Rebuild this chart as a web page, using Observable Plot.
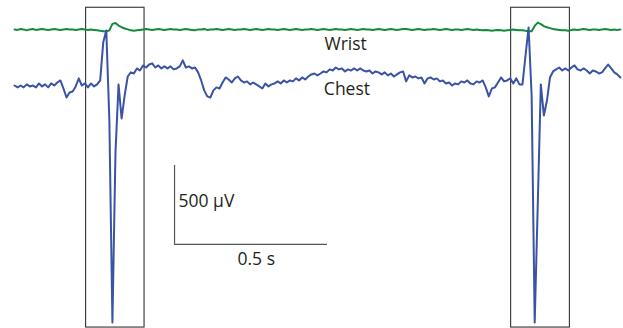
<!DOCTYPE html>
<html>
<head>
<meta charset="utf-8">
<script src="https://cdn.jsdelivr.net/npm/d3@7"></script>
<script src="https://cdn.jsdelivr.net/npm/@observablehq/plot@0.6"></script>
<style>
  html, body { margin: 0; padding: 0; background: #fff; }
  #chart svg { display: block; }
</style>
</head>
<body>
<div id="chart"></div>
<script>
// Sampling interval of both traces (seconds)
const dt = 0.01;

// Chest ECG trace, µV relative to its baseline, one value per sample
const chestUV = [
  6,-6,6,-6,13,0,6,-6,19,0,
  13,-6,19,6,25,38,-13,-70,-38,-32,
  0,51,6,19,-6,19,0,13,38,279,
  354,-215,-1494,-418,13,-203,-57,63,89,82,
  114,101,133,120,139,146,120,133,114,127,
  114,127,108,114,127,165,120,127,114,120,
  89,38,-25,-63,-70,-25,-6,-13,25,57,
  44,25,51,63,38,25,32,13,25,13,
  0,-13,19,0,13,19,32,19,38,25,
  38,32,51,38,57,44,63,76,82,70,
  82,95,89,108,101,120,108,114,95,108,
  101,114,101,114,101,95,101,82,95,89,
  76,89,70,82,63,76,89,95,32,70,
  57,63,51,57,19,51,57,44,51,32,
  38,19,25,6,19,13,32,25,38,19,
  13,32,25,38,-6,-63,-13,-6,25,57,
  32,38,51,19,51,13,13,196,373,-57,
  -1494,-747,13,-184,-89,57,95,108,120,101,
  114,101,120,133,108,101,114,101,82,101,
  95,82,89,114,139,114,89,76,57
];

// Wrist trace, µV relative to its baseline, one value per sample
const wristUV = [
  3,0,6,3,-3,3,6,0,3,6,3,0,3,6,3,0,3,6,3,3,0,3,6,3,0,3,0,-3,-6,
  -8,-10,-3,38,44,27,17,9,3,-3,-6,-3,
  0,3,6,3,0,3,6,3,0,3,
  6,3,3,0,3,6,3,0,-3,3,
  3,6,0,3,3,6,3,0,3,6,
  3,0,3,3,6,3,0,3,6,3,
  0,3,6,3,3,0,3,6,3,0,
  3,6,3,0,3,3,6,3,0,3,
  6,3,0,3,6,3,3,0,3,6,
  3,0,3,6,3,3,0,3,6,3,
  0,3,6,3,0,3,6,6,3,0,
  3,6,3,0,3,3,6,3,0,3,
  6,3,0,3,3,0,3,6,3,0,
  3,0,-3,0,-3,-6,-3,0,-3,-6,
  -3,0,3,0,-3,
  -3,-6,-8,-9,25,46,36,24,17,11,6,3,0,-3,-3,-6,
  0,3,0,3,6,3,0,3,3,0,3,6,3,0,3,0,3
];

// Vertical offset of the wrist trace above the chest trace (µV)
const wristOffset = 358;

// Boxes around the two QRS complexes (seconds)
const boxStart = [0.234, 1.623];
const boxEnd   = [0.425, 1.815];
const boxTopUV = 498, boxBottomUV = -1526;

// Scale bar
const barStart = 0.523;   // s
const barTime = 0.5;      // s
const barBaseUV = -1000;  // µV
const barVolt = 500;      // µV

// Labels
const labelText = ["Wrist", "Chest", "500 µV", "0.5 s"];
const labelT    = [1.013, 1.011, 0.536, 0.79];
const labelUV   = [232, -57, -764, -1127];
const labelAnchor = ["start", "start", "start", "middle"];

const chest = chestUV.map((v, i) => ({t: i * dt, v}));
const wrist = wristUV.map((v, i) => ({t: i * dt, v: v + wristOffset}));
const boxes = boxStart.map((s, i) => ({s, e: boxEnd[i]}));
const labels = labelText.map((text, i) => ({text, t: labelT[i], v: labelUV[i], a: labelAnchor[i]}));

const ink = "#231f20";
const font = "'Open Sans', 'Noto Sans', sans-serif";

const chart = Plot.plot({
  width: 623,
  height: 328,
  margin: 0,
  style: {background: "#fff", fontFamily: font},
  x: {domain: [0, 2], range: [14, 626], axis: null},
  y: {domain: [-1532, 544], range: [328, 0], axis: null},
  marks: [
    Plot.rect(boxes, {x1: "s", x2: "e", y1: boxBottomUV, y2: boxTopUV, fill: "none", stroke: "#333", strokeWidth: 1.1}),
    Plot.line(wrist, {x: "t", y: "v", stroke: "#168a3c", strokeWidth: 2, curve: "linear"}),
    Plot.line(chest, {x: "t", y: "v", stroke: "#3a53a4", strokeWidth: 2, curve: "linear"}),
    Plot.ruleX([barStart], {y1: barBaseUV, y2: barBaseUV + barVolt, stroke: "#555", strokeWidth: 1.2}),
    Plot.ruleY([barBaseUV], {x1: barStart, x2: barStart + barTime, stroke: "#555", strokeWidth: 1.2}),
    Plot.text(labels.filter(d => d.a === "start"), {x: "t", y: "v", text: "text", textAnchor: "start", lineAnchor: "bottom", fontSize: 17.5, fill: ink, fontFamily: font}),
    Plot.text(labels.filter(d => d.a === "middle"), {x: "t", y: "v", text: "text", textAnchor: "middle", lineAnchor: "bottom", fontSize: 17.5, fill: ink, fontFamily: font})
  ]
});
document.getElementById("chart").appendChild(chart);
</script>
</body>
</html>
